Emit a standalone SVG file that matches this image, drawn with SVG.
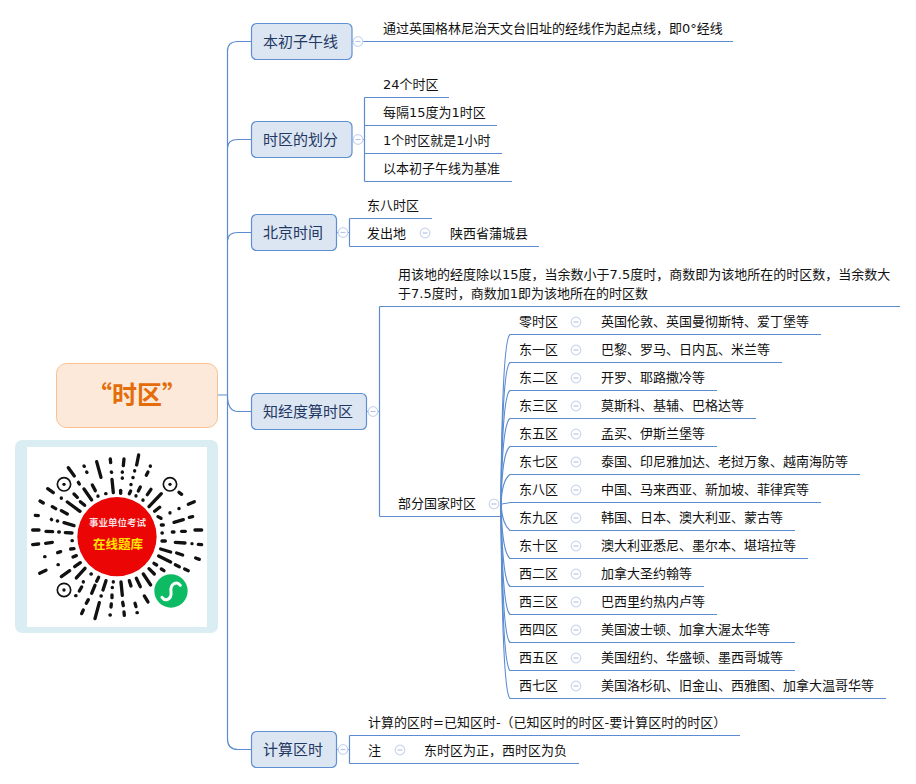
<svg xmlns="http://www.w3.org/2000/svg" width="916" height="784" viewBox="0 0 916 784">
<style>
text{font-family:"DejaVu Sans","Noto Sans CJK SC",sans-serif}
.t{font-size:13px;fill:#111;transform:translateY(-1px)}
.n{font-size:15px;fill:#1F3864}
.box{fill:#DCE6F2;stroke:#5F8FD3;stroke-width:1.2}
.l{fill:none;stroke:#5B8CD2;stroke-width:1.2}
.c{fill:#fff;stroke:#C9D6F0;stroke-width:1.2}
.m{stroke:#B4C5E8;stroke-width:1.2}
.q line{stroke:#111;stroke-linecap:round;stroke-width:10}
</style>
<defs>
<g id="col"><circle class="c" r="4.800"/><line class="m" x1="-2.500" x2="2.500" y1="0" y2="0"/></g>
</defs>
<g id="connectors">
<path class="l" d="M218 395H227.500M227.500 395V51Q227.500 41.500 238 41.500H251M227.500 148Q227.500 139.500 238 139.500H251M227.500 241Q227.500 232.500 238 232.500H251M227.500 395Q227.500 411.500 238 411.500H251M227.500 395V739Q227.500 749.500 238 749.500H251"/>
<path class="l" d="M352 41.500H354M363 41.500H733"/>
<path class="l" d="M352 139.500H354M363 139.500H364.500M364.500 97.500V181.500M364.500 97.500H449M364.500 125.500H497M364.500 153.500H502M364.500 181.500H512"/>
<path class="l" d="M337 232.500H339M348 232.500H349.500M349.500 218.500V246.500M349.500 218.500H432M349.500 246.500H539"/>
<path class="l" d="M367 411.500H369M378 411.500H379.500M379.500 306.500V516.500M379.500 306.500H900M379.500 516.500H501"/>
<path class="l" d="M336 749.500H339M348 749.500H349.500M349.500 735.500V763.500M349.500 735.500H740M349.500 763.500H579"/>
<g class="l">
<path d="M501 504Q502 340 510 334.500H821"/>
<path d="M501 504Q502 368 510 362.500H782"/>
<path d="M501 504Q502 396 510 390.500H717"/>
<path d="M501 504Q502 424 510 418.500H756"/>
<path d="M501 504Q502 452 510 446.500H717"/>
<path d="M501 504Q502 480 510 474.500H860"/>
<path d="M501 504Q503 504 510 502.500H821"/>
<path d="M501 504Q502 524 510 530.500H795"/>
<path d="M501 504Q502 552 510 558.500H808"/>
<path d="M501 504Q502 580 510 586.500H704"/>
<path d="M501 504Q502 608 510 614.500H717"/>
<path d="M501 504Q502 636 510 642.500H795"/>
<path d="M501 504Q502 664 510 670.500H795"/>
<path d="M501 504Q502 692 510 698.500H886"/>
</g>
</g>
<g id="root">
<rect x="56.500" y="363.500" width="161" height="64" rx="10" fill="#FDE9D9" stroke="#FAC090"/>
<text x="137" y="404" text-anchor="middle" font-size="25" font-weight="700" fill="#E46C0A" style="font-family:'Noto Sans CJK SC',sans-serif">“时区”</text>
</g>
<g id="qr">
<rect x="15" y="440" width="203" height="193" rx="7" fill="#DAEDF3"/>
<rect x="27" y="447" width="180" height="180" fill="#fff"/>
<g class="q" transform="translate(0 350) scale(.3333)">
<circle cx="192" cy="403" r="20" fill="none" stroke="#111" stroke-width="5"/><circle cx="192" cy="403" r="5" fill="#111"/>
<circle cx="510" cy="403" r="20" fill="none" stroke="#111" stroke-width="5"/><circle cx="510" cy="403" r="5" fill="#111"/>
<circle cx="192" cy="720" r="20" fill="none" stroke="#111" stroke-width="5"/><circle cx="192" cy="720" r="5" fill="#111"/>
<line x1="205" y1="353" x2="223" y2="378"/><line x1="252" y1="348" x2="253" y2="349"/><line x1="260" y1="366" x2="261" y2="367"/><line x1="290" y1="335" x2="303" y2="382"/><line x1="331" y1="327" x2="332" y2="338"/><line x1="334" y1="366" x2="335" y2="367"/><line x1="372" y1="327" x2="370" y2="347"/><line x1="367" y1="366" x2="367" y2="367"/><line x1="367" y1="384" x2="367" y2="385"/><line x1="416" y1="315" x2="410" y2="345"/><line x1="404" y1="362" x2="404" y2="363"/><line x1="399" y1="382" x2="399" y2="383"/><line x1="451" y1="348" x2="451" y2="349"/><line x1="444" y1="366" x2="439" y2="376"/>
<line x1="143" y1="416" x2="160" y2="428"/><line x1="235" y1="397" x2="238" y2="402"/><line x1="277" y1="405" x2="286" y2="422"/><line x1="336" y1="388" x2="340" y2="428"/><line x1="393" y1="403" x2="393" y2="404"/><line x1="421" y1="411" x2="415" y2="423"/><line x1="453" y1="418" x2="442" y2="434"/><line x1="545" y1="433" x2="537" y2="427"/><line x1="252" y1="417" x2="275" y2="450"/><line x1="222" y1="432" x2="232" y2="442"/><line x1="317" y1="431" x2="318" y2="431"/><line x1="294" y1="438" x2="294" y2="439"/><line x1="362" y1="421" x2="362" y2="430"/><line x1="392" y1="423" x2="388" y2="431"/><line x1="408" y1="437" x2="408" y2="438"/><line x1="484" y1="431" x2="447" y2="470"/><line x1="429" y1="450" x2="429" y2="451"/>
<line x1="120" y1="453" x2="130" y2="459"/><line x1="184" y1="444" x2="184" y2="445"/><line x1="241" y1="455" x2="254" y2="466"/><line x1="202" y1="456" x2="240" y2="484"/><line x1="157" y1="470" x2="167" y2="476"/><line x1="184" y1="482" x2="202" y2="492"/><line x1="464" y1="484" x2="479" y2="472"/><line x1="565" y1="463" x2="583" y2="455"/><line x1="537" y1="475" x2="537" y2="476"/><line x1="510" y1="488" x2="510" y2="489"/><line x1="106" y1="496" x2="115" y2="497"/><line x1="154" y1="508" x2="155" y2="509"/><line x1="172" y1="513" x2="173" y2="513"/><line x1="192" y1="518" x2="222" y2="527"/><line x1="474" y1="500" x2="483" y2="505"/><line x1="522" y1="517" x2="550" y2="509"/><line x1="568" y1="502" x2="578" y2="500"/><line x1="484" y1="525" x2="490" y2="525"/>
<line x1="98" y1="540" x2="117" y2="540"/><line x1="138" y1="544" x2="158" y2="545"/><line x1="176" y1="546" x2="178" y2="546"/><line x1="196" y1="548" x2="216" y2="549"/><line x1="486" y1="549" x2="487" y2="549"/><line x1="517" y1="546" x2="522" y2="546"/><line x1="545" y1="544" x2="556" y2="544"/><line x1="585" y1="540" x2="605" y2="540"/>
<line x1="98" y1="584" x2="116" y2="582"/><line x1="137" y1="580" x2="157" y2="577"/><line x1="216" y1="572" x2="217" y2="572"/><line x1="486" y1="573" x2="496" y2="573"/><line x1="526" y1="577" x2="555" y2="579"/><line x1="576" y1="581" x2="576" y2="581"/><line x1="595" y1="583" x2="605" y2="584"/>
<line x1="173" y1="608" x2="182" y2="605"/><line x1="212" y1="597" x2="222" y2="596"/><line x1="134" y1="620" x2="135" y2="620"/><line x1="482" y1="597" x2="512" y2="606"/><line x1="530" y1="609" x2="548" y2="615"/><line x1="587" y1="624" x2="598" y2="628"/><line x1="219" y1="621" x2="229" y2="617"/><line x1="476" y1="618" x2="512" y2="636"/><line x1="174" y1="644" x2="175" y2="644"/><line x1="119" y1="670" x2="138" y2="661"/><line x1="184" y1="680" x2="209" y2="662"/><line x1="224" y1="650" x2="241" y2="638"/><line x1="229" y1="684" x2="255" y2="655"/><line x1="462" y1="640" x2="470" y2="645"/><line x1="526" y1="644" x2="538" y2="650"/><line x1="554" y1="657" x2="565" y2="662"/><line x1="447" y1="656" x2="463" y2="672"/><line x1="484" y1="657" x2="492" y2="662"/>
<line x1="273" y1="672" x2="274" y2="672"/><line x1="296" y1="682" x2="290" y2="694"/><line x1="250" y1="695" x2="250" y2="696"/><line x1="318" y1="692" x2="309" y2="720"/><line x1="285" y1="706" x2="275" y2="730"/><line x1="245" y1="711" x2="238" y2="723"/><line x1="227" y1="737" x2="228" y2="737"/><line x1="340" y1="695" x2="340" y2="696"/><line x1="337" y1="712" x2="337" y2="713"/><line x1="363" y1="696" x2="367" y2="736"/><line x1="388" y1="692" x2="393" y2="708"/><line x1="409" y1="685" x2="421" y2="710"/><line x1="430" y1="672" x2="452" y2="705"/><line x1="303" y1="738" x2="304" y2="738"/><line x1="336" y1="735" x2="336" y2="743"/><line x1="334" y1="762" x2="333" y2="771"/><line x1="330" y1="795" x2="331" y2="795"/><line x1="265" y1="749" x2="259" y2="760"/><line x1="250" y1="780" x2="245" y2="791"/><line x1="298" y1="758" x2="285" y2="806"/><line x1="368" y1="757" x2="370" y2="767"/><line x1="372" y1="786" x2="373" y2="796"/><line x1="405" y1="760" x2="408" y2="770"/><line x1="411" y1="788" x2="412" y2="788"/><line x1="433" y1="738" x2="444" y2="756"/>
<circle cx="351" cy="560" r="119" fill="#EC0505"/>
<circle cx="513" cy="723" r="50" fill="#0DBB63"/>
<path d="M486 742C497 757 516 747 513 725C510 703 530 691 541 706" fill="none" stroke="#fff" stroke-width="9" stroke-linecap="round"/>
</g>
<text x="117.500" y="526" text-anchor="middle" font-size="9.500" font-weight="700" fill="#FBDCDC" style="font-family:'Noto Sans CJK SC',sans-serif">事业单位考试</text>
<text x="118" y="549" text-anchor="middle" font-size="12.500" font-weight="700" fill="#FFE600" style="font-family:'Noto Sans CJK SC',sans-serif">在线题库</text>
</g>
<g id="node-1">
<rect class="box" x="251.500" y="23.500" width="100.500" height="36" rx="5"/>
<text class="n" x="263" y="47">本初子午线</text>
<use href="#col" x="358" y="41.500"/>
<text class="t" x="383" y="34">通过英国格林尼治天文台旧址的经线作为起点线，即0°经线</text>
</g>
<g id="node-2">
<rect class="box" x="251.500" y="121.500" width="100.500" height="36" rx="5"/>
<text class="n" x="263" y="145">时区的划分</text>
<use href="#col" x="358" y="139.500"/>
<text class="t" x="383" y="90">24个时区</text>
<text class="t" x="383" y="118">每隔15度为1时区</text>
<text class="t" x="383" y="146">1个时区就是1小时</text>
<text class="t" x="383" y="174">以本初子午线为基准</text>
</g>
<g id="node-3">
<rect class="box" x="251.500" y="214.500" width="85" height="36" rx="5"/>
<text class="n" x="263" y="238">北京时间</text>
<use href="#col" x="343" y="232.500"/>
<text class="t" x="367" y="211">东八时区</text>
<text class="t" x="367" y="239">发出地</text>
<use href="#col" x="425" y="233"/>
<text class="t" x="450" y="239">陕西省蒲城县</text>
</g>
<g id="node-4">
<rect class="box" x="251.500" y="393.500" width="115" height="36" rx="5"/>
<text class="n" x="263" y="417">知经度算时区</text>
<use href="#col" x="373" y="411.500"/>
<text class="t" x="398" y="280">用该地的经度除以15度，当余数小于7.5度时，商数即为该地所在的时区数，当余数大</text>
<text class="t" x="398" y="299">于7.5度时，商数加1即为该地所在的时区数</text>
<text class="t" x="398" y="509">部分国家时区</text>
<use href="#col" x="494" y="504"/>
</g>
<g id="zones">
<text class="t" x="519" y="327">零时区</text><use href="#col" x="576" y="322"/><text class="t" x="601" y="327">英国伦敦、英国曼彻斯特、爱丁堡等</text>
<text class="t" x="519" y="355">东一区</text><use href="#col" x="576" y="350"/><text class="t" x="601" y="355">巴黎、罗马、日内瓦、米兰等</text>
<text class="t" x="519" y="383">东二区</text><use href="#col" x="576" y="378"/><text class="t" x="601" y="383">开罗、耶路撒冷等</text>
<text class="t" x="519" y="411">东三区</text><use href="#col" x="576" y="406"/><text class="t" x="601" y="411">莫斯科、基辅、巴格达等</text>
<text class="t" x="519" y="439">东五区</text><use href="#col" x="576" y="434"/><text class="t" x="601" y="439">孟买、伊斯兰堡等</text>
<text class="t" x="519" y="467">东七区</text><use href="#col" x="576" y="462"/><text class="t" x="601" y="467">泰国、印尼雅加达、老挝万象、越南海防等</text>
<text class="t" x="519" y="495">东八区</text><use href="#col" x="576" y="490"/><text class="t" x="601" y="495">中国、马来西亚、新加坡、菲律宾等</text>
<text class="t" x="519" y="523">东九区</text><use href="#col" x="576" y="518"/><text class="t" x="601" y="523">韩国、日本、澳大利亚、蒙古等</text>
<text class="t" x="519" y="551">东十区</text><use href="#col" x="576" y="546"/><text class="t" x="601" y="551">澳大利亚悉尼、墨尔本、堪培拉等</text>
<text class="t" x="519" y="579">西二区</text><use href="#col" x="576" y="574"/><text class="t" x="601" y="579">加拿大圣约翰等</text>
<text class="t" x="519" y="607">西三区</text><use href="#col" x="576" y="602"/><text class="t" x="601" y="607">巴西里约热内卢等</text>
<text class="t" x="519" y="635">西四区</text><use href="#col" x="576" y="630"/><text class="t" x="601" y="635">美国波士顿、加拿大渥太华等</text>
<text class="t" x="519" y="663">西五区</text><use href="#col" x="576" y="658"/><text class="t" x="601" y="663">美国纽约、华盛顿、墨西哥城等</text>
<text class="t" x="519" y="691">西七区</text><use href="#col" x="576" y="686"/><text class="t" x="601" y="691">美国洛杉矶、旧金山、西雅图、加拿大温哥华等</text>
</g>
<g id="node-5">
<rect class="box" x="251.500" y="731.500" width="85" height="36" rx="5"/>
<text class="n" x="263" y="755">计算区时</text>
<use href="#col" x="343" y="749.500"/>
<text class="t" x="368" y="728">计算的区时=已知区时-（已知区时的时区-要计算区时的时区）</text>
<text class="t" x="368" y="756">注</text>
<use href="#col" x="400" y="750"/>
<text class="t" x="424" y="756">东时区为正，西时区为负</text>
</g>
</svg>
